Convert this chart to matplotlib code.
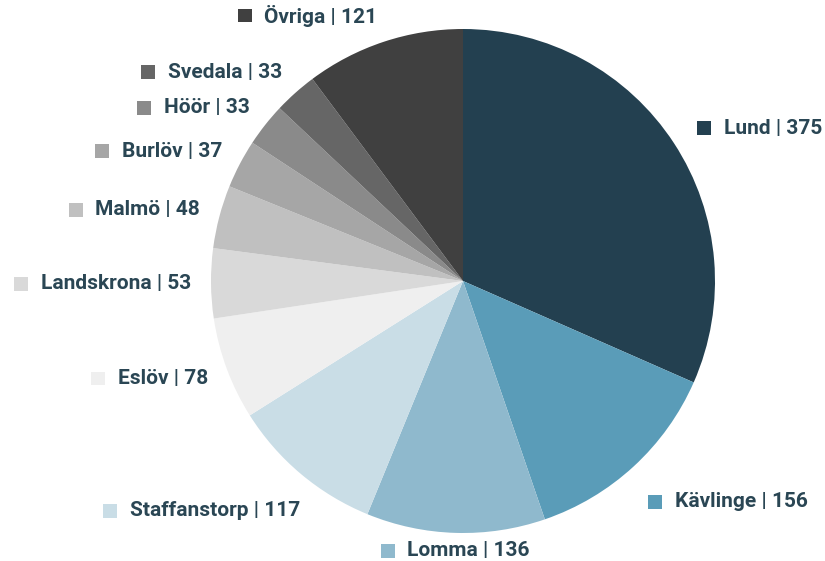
import numpy as np
import matplotlib
matplotlib.use("Agg")
import matplotlib.pyplot as plt
from matplotlib.offsetbox import AnnotationBbox, HPacker, TextArea, DrawingArea
from matplotlib.patches import Rectangle

names = ['Lund', 'Kävlinge', 'Lomma', 'Staffanstorp', 'Eslöv', 'Landskrona',
         'Malmö', 'Burlöv', 'Höör', 'Svedala', 'Övriga']
values = [375, 156, 136, 117, 78, 53, 48, 37, 33, 33, 121]
colors = ['#234050', '#5a9cb8', '#8fb9cd', '#c9dde6', '#efefef', '#d9d9d9',
          '#c0c0c0', '#a6a6a6', '#8a8a8a', '#666666', '#404040']

plt.rcParams['font.family'] = ['Roboto', 'DejaVu Sans']
text_color = '#2a4654'

W, H = 825, 561
cx, cy, R = 463, 281, 252
fig = plt.figure(figsize=(W / 100, H / 100), dpi=100)
ax = fig.add_axes([(cx - R) / W, (H - cy - R) / H, 2 * R / W, 2 * R / H])

ax.pie(values, colors=colors, startangle=90, counterclock=False,
       radius=1, center=(0, 0), frame=True)
ax.set_xlim(-1, 1)
ax.set_ylim(-1, 1)
ax.axis('off')

total = sum(values)
cum = np.cumsum([0] + values[:-1])
for name, v, c, s in zip(names, values, colors, cum):
    mid = (s + v / 2) / total * 2 * np.pi
    dx, dy = np.sin(mid), np.cos(mid)
    lr = 1.11 if dx > 0 else 1.08
    x, y = lr * dx, 1.11 * dy
    if dy < -0.6 and abs(dx) >= 0.15:
        # lower labels pushed down, x follows a wider circle
        y = 1.19 * dy
        x = np.sign(dx) * np.sqrt(1.13 ** 2 - y ** 2) + 0.022
    if y < -1.05:
        y = -1.07
    da = DrawingArea(10, 10, 0, 0)
    da.add_artist(Rectangle((0, 0), 10, 10, facecolor=c, edgecolor='none'))
    ta = TextArea(f'{name} | {v}', textprops=dict(color=text_color, fontsize=15,
                                                  fontweight='bold'))
    box = HPacker(children=[da, ta], align='center', pad=0, sep=9)
    if abs(dx) < 0.15:
        ha = 0.5
    elif dx > 0:
        ha = 0.0
    else:
        ha = 1.0
    ab = AnnotationBbox(box, (x, y), xycoords='data', box_alignment=(ha, 0.5),
                        frameon=False, pad=0, annotation_clip=False)
    ax.add_artist(ab)

fig.savefig('out.png', dpi=100, facecolor='white')
